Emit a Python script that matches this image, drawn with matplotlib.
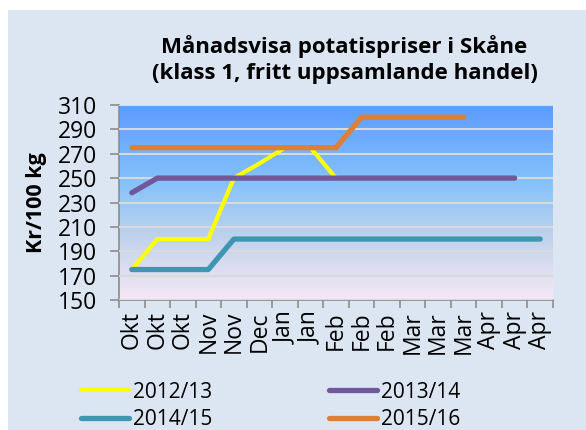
import numpy as np
import matplotlib.pyplot as plt
from matplotlib.patches import Rectangle
from matplotlib.colors import LinearSegmentedColormap

months = ['Okt', 'Okt', 'Okt', 'Nov', 'Nov', 'Dec', 'Jan', 'Jan', 'Feb',
          'Feb', 'Feb', 'Mar', 'Mar', 'Mar', 'Apr', 'Apr', 'Apr']

# prices per sample point, kr/100 kg
s2012 = [175, 200, 200, 200, 250, 262, 275, 275, 250, 250, 250, 250, 250, 250, 250, 250]
s2013 = [238, 250, 250, 250, 250, 250, 250, 250, 250, 250, 250, 250, 250, 250, 250, 250]
s2014 = [175, 175, 175, 175, 200, 200, 200, 200, 200, 200, 200, 200, 200, 200, 200, 200, 200]
s2015 = [275, 275, 275, 275, 275, 275, 275, 275, 275, 300, 300, 300, 300, 300]

series = [('2012/13', s2012, '#ffff00', 3.0),
          ('2013/14', s2013, '#70589a', 3.8),
          ('2014/15', s2014, '#3f96b0', 3.8),
          ('2015/16', s2015, '#dd7f37', 3.8)]

plt.rcParams['font.family'] = ['Open Sans', 'DejaVu Sans']

fig = plt.figure(figsize=(5.86, 4.30), dpi=100)
fig.patches.append(Rectangle((8 / 586, 0), 1, 1 - 10 / 430, transform=fig.transFigure,
                             facecolor='#dce6f2', edgecolor='none', zorder=-10))

ax = fig.add_axes([119 / 586, 130 / 430, 434 / 586, 195 / 430])
ax.set_facecolor('none')

# gradient background of plot area
cmap = LinearSegmentedColormap.from_list('bg', [(0, '#f6e8f6'), (0.3, '#c4d4ec'),
                                                (0.6, '#86c2fb'), (1, '#5b9cfe')])
grad = np.linspace(0, 1, 256).reshape(-1, 1)
ax.imshow(grad, cmap=cmap, origin='lower', aspect='auto', extent=[0, 1, 0, 1],
          transform=ax.transAxes, zorder=0)

lines = {}
for label, vals, col, lw in series:
    lines[label], = ax.plot(range(len(vals)), vals, color=col, lw=lw, label=label,
                            solid_capstyle='round', solid_joinstyle='round', zorder=3)

ax.set_xlim(-0.5, len(months) - 0.5)
ax.set_ylim(150, 310)
ax.set_yticks(range(150, 311, 20))
ax.yaxis.grid(True, color='#d9d9d9', lw=1.5, zorder=1)
ax.set_axisbelow(False)

ax.set_xticks(range(len(months)))
ax.set_xticklabels(months, rotation=90, fontsize=16.5)
ax.set_xticks(np.arange(-0.5, len(months)), minor=True)
ax.tick_params(axis='x', which='major', length=0, pad=8)
ax.tick_params(axis='x', which='minor', length=6, color='#8c8c8c', width=1.2)
ax.tick_params(axis='y', labelsize=16.5, length=6.5, color='#8c8c8c', width=1.2, pad=9)

for side in ['top', 'right']:
    ax.spines[side].set_visible(False)
for side in ['left', 'bottom']:
    ax.spines[side].set_color('#8c8c8c')
    ax.spines[side].set_linewidth(1.2)

ax.set_ylabel('Kr/100 kg', fontsize=15.5, fontweight='bold', labelpad=8)
fig.text(0.588, 0.893, 'Månadsvisa potatispriser i Skåne', ha='center', va='center',
         fontsize=16, fontweight='bold')
fig.text(0.588, 0.830, '(klass 1, fritt uppsamlande handel)', ha='center', va='center',
         fontsize=16, fontweight='bold')

order = ['2012/13', '2014/15', '2013/14', '2015/16']
fig.legend([lines[k] for k in order], order, loc='upper left',
           bbox_to_anchor=(66 / 586, 1 - 367 / 430), ncol=2, frameon=False,
           fontsize=15, handlelength=2.3, handletextpad=0.2, columnspacing=5.6,
           labelspacing=0.3, borderpad=0.2)

fig.savefig('out.png', dpi=100, facecolor='white')
